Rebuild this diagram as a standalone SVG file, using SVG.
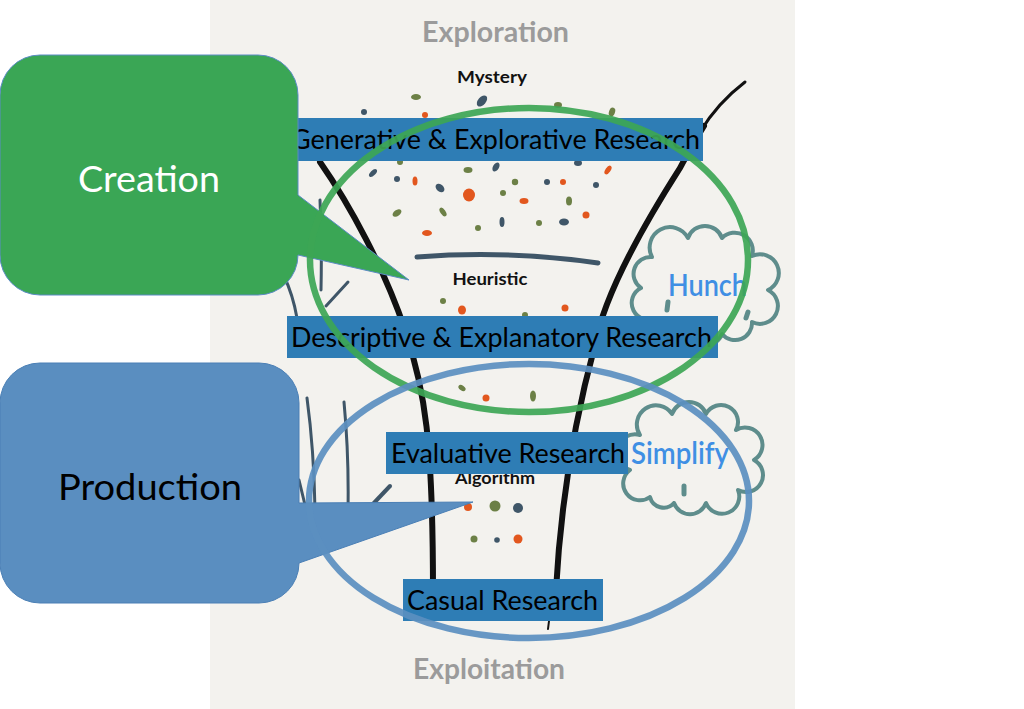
<svg xmlns="http://www.w3.org/2000/svg" width="1024" height="709" viewBox="0 0 1024 709">
<style>
.bg{fill:#f3f2ee}
.o{fill:#e2571e}.g{fill:#6c8046}.s{fill:#3f5668}
.funnel{fill:none;stroke:#111;stroke-width:6;stroke-linecap:round}
.blade{fill:none;stroke:#3f5668;stroke-width:3;stroke-linecap:round}
.cloud{fill:none;stroke:#5e8d8c;stroke-width:4;stroke-linejoin:round;stroke-linecap:round}
.fut{font-family:Lato,"Liberation Sans",sans-serif;font-weight:700}
.gray{fill:#9b9b9b;font-size:29px}
.lbl{fill:#111;font-size:17px}
.blue{fill:#3f8fe4;font-size:31px;font-weight:600}
.box{fill:#2e7db5}
.bt{font-family:Lato,"Open Sans",sans-serif;font-size:27px;fill:#000}
.ct{font-family:Lato,"Open Sans",sans-serif;font-size:37px}
.ring{fill:none;stroke-width:6.5;opacity:0.92}
</style>
<rect width="1024" height="709" fill="#ffffff"/>
<rect class="bg" x="210" y="0" width="585" height="709"/>

<g id="dots">
<ellipse class="g" cx="416" cy="97" rx="5" ry="3"/>
<ellipse class="s" cx="482" cy="101" rx="6.5" ry="4" transform="rotate(-50 482 101)"/>
<circle class="s" cx="364" cy="112" r="3"/>
<circle class="o" cx="425" cy="115" r="3"/>
<ellipse class="g" cx="558" cy="105" rx="4" ry="3"/>
<ellipse class="g" cx="612" cy="112" rx="3" ry="4.5" transform="rotate(20 612 112)"/>
<circle class="g" cx="400" cy="162" r="3"/>
<ellipse class="s" cx="373" cy="173" rx="5" ry="2.5" transform="rotate(-45 373 173)"/>
<ellipse class="g" cx="468" cy="170" rx="4.5" ry="3"/>
<ellipse class="s" cx="496" cy="167" rx="3" ry="5" transform="rotate(30 496 167)"/>
<ellipse class="s" cx="578" cy="163" rx="4" ry="3"/>
<ellipse class="o" cx="608" cy="170" rx="5" ry="2.5" transform="rotate(-55 608 170)"/>
<circle class="s" cx="397" cy="179" r="3"/>
<ellipse class="o" cx="415" cy="181" rx="2.5" ry="4.5"/>
<circle class="g" cx="515" cy="182" r="3.2"/>
<circle class="s" cx="547" cy="182" r="3"/>
<circle class="o" cx="563" cy="182" r="3"/>
<circle class="s" cx="596" cy="185" r="3"/>
<ellipse class="s" cx="440" cy="188" rx="5" ry="3.5" transform="rotate(40 440 188)"/>
<ellipse class="o" cx="469" cy="195" rx="6" ry="6.5"/>
<circle class="g" cx="503" cy="193" r="3"/>
<ellipse class="o" cx="524" cy="201" rx="4.5" ry="3"/>
<ellipse class="g" cx="569" cy="201" rx="3" ry="4.5"/>
<ellipse class="g" cx="397" cy="213" rx="5" ry="3" transform="rotate(-35 397 213)"/>
<ellipse class="g" cx="443" cy="212" rx="5" ry="2.5" transform="rotate(55 443 212)"/>
<circle class="o" cx="586" cy="215" r="3.5"/>
<ellipse class="s" cx="502" cy="222" rx="2.5" ry="5"/>
<circle class="g" cx="539" cy="223" r="3"/>
<ellipse class="s" cx="564" cy="222" rx="5" ry="3.5"/>
<circle class="g" cx="478" cy="228" r="3"/>
<ellipse class="o" cx="427" cy="233" rx="5" ry="3"/>
<circle class="g" cx="443" cy="301" r="3"/>
<ellipse class="o" cx="462" cy="310" rx="4" ry="4.5"/>
<circle class="g" cx="525" cy="315" r="3"/>
<circle class="o" cx="565" cy="308" r="3.5"/>
<ellipse class="g" cx="462" cy="388" rx="4" ry="2.5" transform="rotate(35 462 388)"/>
<circle class="o" cx="486" cy="398" r="3.5"/>
<ellipse class="g" cx="533" cy="396" rx="3" ry="5.5"/>
<circle class="o" cx="468" cy="507" r="4"/>
<circle class="g" cx="495" cy="506" r="5.5"/>
<circle class="s" cx="518" cy="508" r="5"/>
<circle class="g" cx="474" cy="539" r="3.5"/>
<circle class="s" cx="497" cy="540" r="2.8"/>
<circle class="o" cx="518" cy="539" r="4.5"/>
</g>

<g id="funnel">
<path class="funnel" d="M320,162 C350,205 385,270 405,330 C425,390 433,440 433,592"/>
<path class="funnel" style="stroke-width:3" d="M745,82 C728,95 712,112 700,132"/>
<path class="funnel" d="M704,126 C695,140 688,152 680,168 C650,215 605,290 595,345 C580,400 562,480 556,590"/>
<path class="funnel" style="stroke-width:2" d="M549,621 L548,629"/>
<path fill="none" stroke="#3f5668" stroke-width="5" stroke-linecap="round" d="M417,257 Q508,250 598,263"/>
</g>

<g id="grass">
<path class="blade" d="M320,200 Q322,245 321,290"/>
<path class="blade" d="M348,282 L326,306"/>
<path class="blade" d="M284,276 Q293,295 297,318"/>
<path class="blade" d="M307,398 Q314,450 315,510"/>
<path class="blade" d="M344,402 Q349,455 348,510"/>
<path class="blade" style="stroke-width:4" d="M390,486 L372,505"/>
<path class="blade" d="M299,480 L305,505"/>
</g>

<g id="labels">
<text class="fut gray" x="495.5" y="42" text-anchor="middle" textLength="147" lengthAdjust="spacingAndGlyphs">Exploration</text>
<text class="fut lbl" x="492" y="83" text-anchor="middle" textLength="70" lengthAdjust="spacingAndGlyphs">Mystery</text>
<text class="fut lbl" x="490" y="285" text-anchor="middle" textLength="75" lengthAdjust="spacingAndGlyphs">Heuristic</text>
<text class="fut lbl" x="495" y="484" text-anchor="middle" textLength="80" lengthAdjust="spacingAndGlyphs">Algorithm</text>
<text class="fut gray" x="489" y="679" text-anchor="middle" textLength="152" lengthAdjust="spacingAndGlyphs">Exploitation</text>
</g>

<g id="hunch">
<path class="cloud" d="M656,318 A16,16 0 0 1 641,288 A17,17 0 0 1 652,257 A20,20 0 0 1 688,238 A18,18 0 0 1 722,238 A18,18 0 0 1 752,256 A17,17 0 0 1 768,290 A16,16 0 0 1 752,322 A17,17 0 0 1 722,334 A18,18 0 0 1 688,333 A17,17 0 0 1 656,318 Z"/>
<path class="cloud" style="stroke-width:5" d="M667,310 L668,302"/>
<path class="cloud" style="stroke-width:5" d="M746,318 L748,312"/>
<text class="fut blue" x="668" y="296" textLength="79" lengthAdjust="spacingAndGlyphs">Hunch</text>
</g>

<g id="simplify">
<path class="cloud" d="M650,497 A15,15 0 0 1 630,470 A15,15 0 0 1 640,435 A18,18 0 0 1 672,414 A18,18 0 0 1 706,414 A16,16 0 0 1 736,430 A15,15 0 0 1 754,460 A15,15 0 0 1 738,490 A17,17 0 0 1 706,503 A17,17 0 0 1 674,503 A14,14 0 0 1 650,497 Z"/>
<path class="cloud" style="stroke-width:5" d="M684,494 L684,486"/>
<text class="fut blue" x="631" y="464" textLength="98" lengthAdjust="spacingAndGlyphs">Simplify</text>
</g>

<g id="generative">
<rect class="box" x="293" y="118" width="410" height="43"/>
<text class="bt" x="291" y="149" textLength="409" lengthAdjust="spacingAndGlyphs">Generative &amp; Explorative Research</text>
</g>
<g id="descriptive">
<rect class="box" x="287" y="316" width="431" height="42"/>
<text class="bt" x="291" y="347" textLength="421" lengthAdjust="spacingAndGlyphs">Descriptive &amp; Explanatory Research</text>
</g>
<g id="evaluative">
<rect class="box" x="386" y="432" width="242" height="42"/>
<text class="bt" x="391" y="463" textLength="234" lengthAdjust="spacingAndGlyphs">Evaluative Research</text>
</g>
<g id="casual">
<rect class="box" x="403" y="579" width="200" height="42"/>
<text class="bt" x="407" y="610" textLength="191" lengthAdjust="spacingAndGlyphs">Casual Research</text>
</g>

<g id="creation">
<path fill="#3aa655" stroke="#5b8bc4" stroke-width="1" d="M40,55 H258 A40,40 0 0 1 298,95 V195 L409,280 L298,255 A40,40 0 0 1 258,295 H40 A40,40 0 0 1 0,255 V95 A40,40 0 0 1 40,55 Z"/>
<text class="ct" x="149" y="192" text-anchor="middle" fill="#ffffff" textLength="142" lengthAdjust="spacingAndGlyphs">Creation</text>
</g>
<g id="production">
<path fill="#5a8ec0" stroke="#4a7fb5" stroke-width="1" d="M40,363 H259 A40,40 0 0 1 299,403 V503 L473,502 L299,563 A40,40 0 0 1 259,603 H40 A40,40 0 0 1 0,563 V403 A40,40 0 0 1 40,363 Z"/>
<text class="ct" x="150" y="500" text-anchor="middle" fill="#000000" textLength="184" lengthAdjust="spacingAndGlyphs">Production</text>
</g>

<g id="rings">
<ellipse class="ring" stroke="#3da655" cx="529" cy="260" rx="219" ry="152"/>
<ellipse class="ring" stroke="#5b8fc0" cx="529" cy="501" rx="220" ry="137"/>
</g>
</svg>
